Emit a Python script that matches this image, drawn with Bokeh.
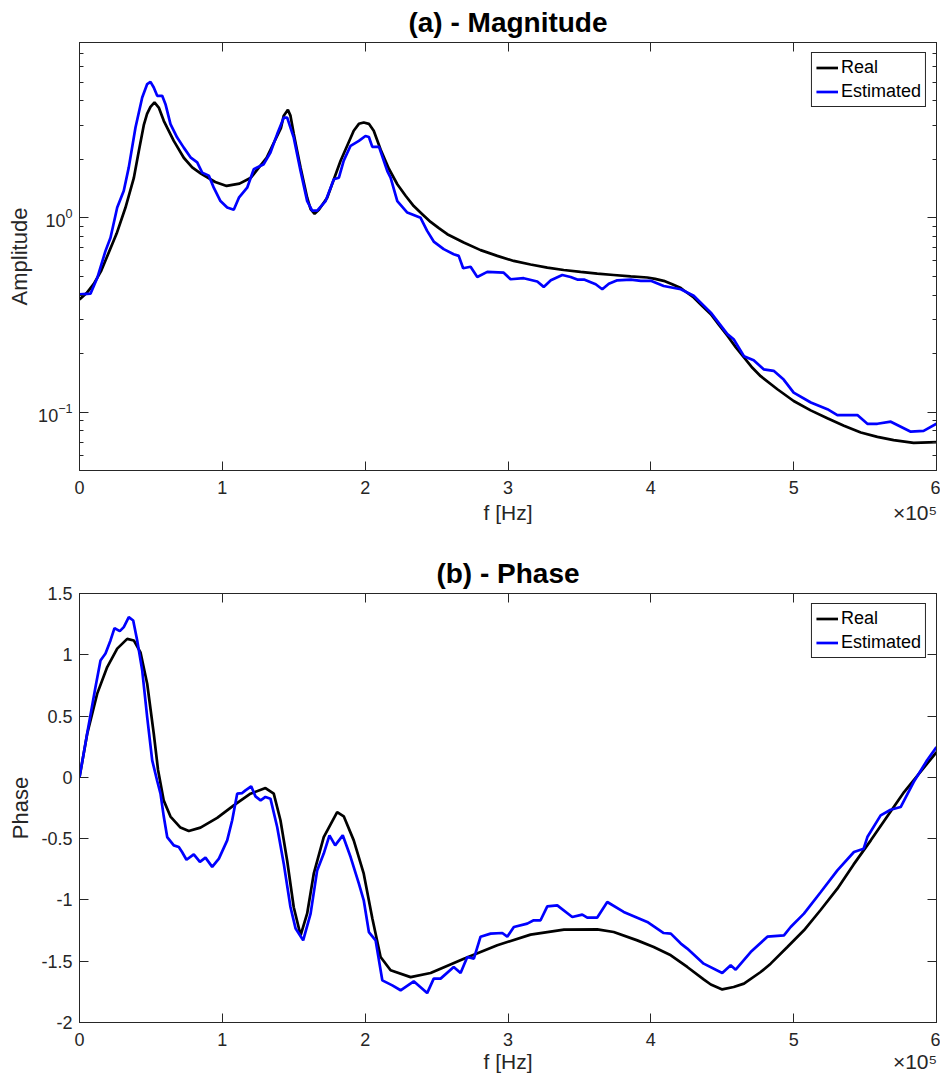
from bokeh.plotting import figure
from bokeh.layouts import column
from bokeh.models import Range1d, FixedTicker, LinearAxis, LogAxis
from bokeh.embed import file_html
from bokeh.resources import INLINE

# ---------------- data (frequency in units of 1e5 Hz) ----------------
f_mag_real = [0, 0.05, 0.1, 0.15, 0.26, 0.322, 0.38, 0.415, 0.45, 0.473, 0.497, 0.525,
              0.555, 0.59, 0.66, 0.73, 0.789, 0.85, 0.95, 1.03, 1.12, 1.2, 1.31, 1.41, 1.43,
              1.459, 1.477, 1.5, 1.524, 1.548, 1.594, 1.618, 1.646, 1.676, 1.734, 1.828,
              1.92, 1.956, 1.99, 2.026, 2.06, 2.108, 2.166, 2.225, 2.283, 2.34, 2.40, 2.458,
              2.516, 2.575, 2.69, 2.808, 2.925, 3.04, 3.158, 3.275, 3.39, 3.508, 3.625,
              3.74, 3.859, 3.975, 4.03, 4.09, 4.15, 4.21, 4.23, 4.30, 4.36, 4.42, 4.477,
              4.536, 4.594, 4.652, 4.711, 4.769, 4.886, 5.0, 5.119, 5.236, 5.352, 5.47,
              5.586, 5.70, 5.84, 6.0]
mag_real = [0.38, 0.41, 0.457, 0.53, 0.83, 1.13, 1.6, 2.2, 3.0, 3.43, 3.73, 3.93,
            3.7, 3.16, 2.49, 2.04, 1.82, 1.69, 1.53, 1.46, 1.50, 1.61, 2.04, 2.9, 3.36,
            3.6, 3.36, 2.71, 2.21, 1.81, 1.27, 1.11, 1.05, 1.10, 1.27, 1.97,
            2.81, 3.05, 3.10, 3.05, 2.81, 2.25, 1.79, 1.49, 1.30, 1.15, 1.045, 0.953,
            0.885, 0.824, 0.746, 0.682, 0.637, 0.600, 0.575, 0.554, 0.539, 0.527, 0.516,
            0.508, 0.50, 0.493, 0.485, 0.474, 0.455, 0.435, 0.424, 0.389, 0.352, 0.319, 0.281,
            0.247, 0.216, 0.191, 0.169, 0.153, 0.131, 0.114, 0.102, 0.093, 0.085, 0.0784,
            0.0745, 0.0717, 0.0694, 0.070]

f_mag_est = [0, 0.077, 0.124, 0.182, 0.217, 0.264, 0.31, 0.345, 0.392, 0.439, 0.474,
             0.497, 0.52, 0.544, 0.579, 0.602, 0.637, 0.684, 0.73, 0.777, 0.824, 0.859,
             0.906, 0.94, 0.987, 1.034, 1.08, 1.116, 1.174, 1.22, 1.29, 1.337, 1.384,
             1.43, 1.454, 1.50, 1.548, 1.594, 1.629, 1.664, 1.723, 1.781, 1.816, 1.85,
             1.898, 1.956, 2.002, 2.026, 2.05, 2.097, 2.155, 2.178, 2.225, 2.295, 2.388,
             2.434, 2.48, 2.55, 2.62, 2.655, 2.686, 2.738, 2.785, 2.855, 2.97, 3.018,
             3.11, 3.205, 3.25, 3.30, 3.38, 3.438, 3.485, 3.532, 3.614, 3.66, 3.706,
             3.765, 3.86, 3.93, 4.0, 4.09, 4.21, 4.30, 4.42, 4.536, 4.58, 4.652, 4.72,
             4.79, 4.86, 4.93, 5.0, 5.12, 5.236, 5.306, 5.446, 5.516, 5.586, 5.68,
             5.82, 5.91, 6.0]
mag_est = [0.404, 0.407, 0.49, 0.676, 0.79, 1.13, 1.38, 1.82, 2.92, 4.17, 4.89,
           5.02, 4.69, 4.25, 4.25, 3.85, 3.04, 2.59, 2.30, 2.05, 1.93, 1.71,
           1.65, 1.43, 1.22, 1.13, 1.10, 1.27, 1.43, 1.78, 1.89, 2.17, 2.70,
           3.28, 3.28, 2.59, 1.74, 1.22, 1.09, 1.09, 1.22, 1.58, 1.61, 1.97,
           2.35, 2.49, 2.64, 2.61, 2.32, 2.32, 1.74, 1.61, 1.22, 1.065, 1.00,
           0.857, 0.755, 0.69, 0.65, 0.637, 0.55, 0.56, 0.496, 0.527, 0.522, 0.483,
           0.489, 0.47, 0.441, 0.477, 0.508, 0.496, 0.481, 0.481, 0.455, 0.429, 0.458,
           0.477, 0.481, 0.474, 0.474, 0.446, 0.429, 0.397, 0.325, 0.252, 0.237, 0.194, 0.185,
           0.166, 0.163, 0.147, 0.126, 0.112, 0.1035, 0.0965, 0.0965, 0.087, 0.087, 0.0892,
           0.0792, 0.080, 0.087]

f_ph_real = [0, 0.054, 0.124, 0.194, 0.264, 0.334, 0.38, 0.427, 0.474, 0.52, 0.55,
             0.59, 0.637, 0.707, 0.765, 0.847, 0.964, 1.08, 1.197, 1.302, 1.36, 1.407,
             1.454, 1.50, 1.548, 1.594, 1.64, 1.71, 1.804, 1.85, 1.92, 1.99, 2.05,
             2.108, 2.178, 2.318, 2.458, 2.691, 2.925, 3.158, 3.392, 3.625, 3.74, 3.905,
             4.02, 4.14, 4.255, 4.372, 4.42, 4.50, 4.58, 4.652, 4.769, 4.839, 4.956,
             5.072, 5.19, 5.306, 5.42, 5.54, 5.773, 6.0]
ph_real = [0, 0.356, 0.683, 0.90, 1.05, 1.13, 1.117, 1.02, 0.764, 0.356, 0.06,
           -0.19, -0.32, -0.41, -0.438, -0.41, -0.33, -0.228, -0.133, -0.087, -0.133, -0.35,
           -0.68, -1.06, -1.289, -1.11, -0.786, -0.487, -0.283, -0.318, -0.514, -0.786, -1.15,
           -1.466, -1.574, -1.63, -1.596, -1.479, -1.37, -1.283, -1.242, -1.24, -1.262, -1.33,
           -1.384, -1.452, -1.547, -1.65, -1.69, -1.73, -1.71, -1.683, -1.588, -1.52, -1.384,
           -1.248, -1.08, -0.908, -0.71, -0.514, -0.12, 0.206]

f_ph_est = [0, 0.054, 0.112, 0.147, 0.182, 0.217, 0.245, 0.282, 0.31, 0.345, 0.376,
            0.404, 0.439, 0.474, 0.509, 0.544, 0.567, 0.59, 0.614, 0.66, 0.695, 0.718,
            0.749, 0.80, 0.843, 0.882, 0.929, 0.976, 1.034, 1.069, 1.104, 1.139, 1.162,
            1.202, 1.232, 1.268, 1.302, 1.337, 1.384, 1.43, 1.477, 1.513, 1.559, 1.566,
            1.618, 1.664, 1.71, 1.75, 1.79, 1.843, 1.898, 1.956, 1.99, 2.026, 2.073,
            2.12, 2.19, 2.248, 2.34, 2.434, 2.48, 2.528, 2.62, 2.668, 2.715, 2.761,
            2.808, 2.878, 2.96, 2.995, 3.041, 3.135, 3.18, 3.228, 3.275, 3.345, 3.45,
            3.52, 3.555, 3.625, 3.695, 3.81, 3.975, 4.09, 4.14, 4.21, 4.255, 4.37,
            4.50, 4.559, 4.594, 4.699, 4.816, 4.932, 4.979, 5.072, 5.19, 5.306, 5.422,
            5.49, 5.516, 5.609, 5.679, 5.749, 5.84, 5.934, 6.0]
ph_est = [0, 0.36, 0.737, 0.954, 1.01, 1.117, 1.218, 1.193, 1.226, 1.307, 1.28,
          1.117, 0.873, 0.49, 0.139, -0.03, -0.133, -0.32, -0.487, -0.555, -0.568, -0.609,
          -0.672, -0.628, -0.69, -0.655, -0.73, -0.663, -0.514, -0.35, -0.133, -0.128, -0.106,
          -0.073, -0.155, -0.188, -0.16, -0.174, -0.405, -0.704, -1.058, -1.234, -1.316, -1.33,
          -1.112, -0.759, -0.622, -0.473, -0.555, -0.473, -0.65, -0.867, -1.003, -1.262, -1.33,
          -1.656, -1.697, -1.737, -1.664, -1.76, -1.642, -1.642, -1.547, -1.596, -1.466, -1.479,
          -1.30, -1.275, -1.27, -1.30, -1.221, -1.193, -1.166, -1.166, -1.052, -1.044, -1.139,
          -1.12, -1.144, -1.144, -1.017, -1.098, -1.18, -1.27, -1.275, -1.356, -1.397, -1.52,
          -1.596, -1.533, -1.569, -1.425, -1.30, -1.289, -1.221, -1.112, -0.935, -0.759, -0.609,
          -0.582, -0.487, -0.31, -0.264, -0.242, -0.038, 0.139, 0.247]

x_ticks = [0, 1, 2, 3, 4, 5, 6]
mag_major_ticks = [0.1, 1]
mag_minor_ticks = [0.06, 0.07, 0.08, 0.09, 0.2, 0.3, 0.4, 0.5, 0.6, 0.7, 0.8, 0.9,
                   2, 3, 4, 5, 6, 7, 8]
ph_ticks = [-2, -1.5, -1, -0.5, 0, 0.5, 1, 1.5]
ph_tick_labels = ["-2", "-1.5", "-1", "-0.5", "0", "0.5", "1", "1.5"]
x_label_text = "f [Hz]"
x_exponent_text = "\u00d710\u2075"

FONT = "Liberation Sans"
AX = "#262626"
W = 940


def style_axis(ax, show_labels=True, minor=False):
    ax.axis_line_color = AX
    ax.major_tick_line_color = AX
    ax.major_tick_in = 9
    ax.major_tick_out = 0
    ax.minor_tick_line_color = AX if minor else None
    ax.minor_tick_in = 4
    ax.minor_tick_out = 0
    ax.major_label_text_color = AX
    ax.major_label_text_font = FONT
    ax.axis_label_text_font = FONT
    ax.axis_label_text_color = AX
    ax.axis_label_text_font_style = "normal"
    ax.axis_label_text_font_size = "22px"
    if show_labels:
        ax.major_label_text_font_size = "18px"
    else:
        ax.major_label_text_font_size = "1px"
        ax.major_label_text_alpha = 0
        ax.major_label_standoff = 0


def make_fig(height, top, bottom, title, yrange, log):
    kw = dict(width=W, height=height, x_range=Range1d(0, 6), y_range=yrange,
              output_backend="svg", toolbar_location=None,
              min_border_left=79, min_border_right=4,
              min_border_top=top, min_border_bottom=bottom,
              background_fill_color="white", border_fill_color="white")
    if log:
        kw["y_axis_type"] = "log"
    p = figure(**kw)
    p.title.text = title
    p.title.align = "center"
    p.title.text_font = FONT
    p.title.text_font_size = "28px"
    p.title.text_font_style = "bold"
    p.title.text_color = "black"
    p.title.standoff = 9
    p.xgrid.visible = False
    p.ygrid.visible = False
    p.outline_line_color = AX
    p.outline_line_width = 1
    p.outline_line_alpha = 1
    return p


def add_x_label_axis(p, standoff):
    # second axis under the numbers: carries "f [Hz]" and the x10^5 multiplier on one row
    lab_ticker = FixedTicker(ticks=[3.0, 5.85], minor_ticks=[])
    ax = LinearAxis(ticker=lab_ticker)
    ax.axis_line_color = None
    ax.major_tick_line_color = None
    ax.minor_tick_line_color = None
    ax.major_tick_in = 0
    ax.major_tick_out = 0
    ax.major_label_standoff = standoff
    ax.major_label_text_font = FONT
    ax.major_label_text_font_size = "21px"
    ax.major_label_text_color = AX
    ax.major_label_overrides = {3.0: x_label_text, 5.85: x_exponent_text}
    p.add_layout(ax, "below")


xt = FixedTicker(ticks=x_ticks, minor_ticks=[])

# ---------------- (a) magnitude ----------------
p1 = make_fig(545, 41, 75, "(a) - Magnitude", Range1d(0.05, 8), True)
mt = FixedTicker(ticks=mag_major_ticks, minor_ticks=mag_minor_ticks)
p1.xaxis.ticker = xt
p1.yaxis.ticker = mt
p1.yaxis.axis_label = "Amplitude"
style_axis(p1.xaxis[0])
style_axis(p1.yaxis[0], minor=True)
p1.xaxis.major_label_standoff = 10
p1.yaxis.major_label_standoff = 7
p1.yaxis.axis_label_standoff = 3
add_x_label_axis(p1, 4)
top1 = LinearAxis(ticker=xt)
style_axis(top1, show_labels=False)
p1.add_layout(top1, "above")
right1 = LogAxis(ticker=mt)
style_axis(right1, show_labels=False, minor=True)
p1.add_layout(right1, "right")

p1.line(f_mag_real, mag_real, line_color="black", line_width=2.7, legend_label="Real")
p1.line(f_mag_est, mag_est, line_color="#0000FF", line_width=2.7, legend_label="Estimated")

# ---------------- (b) phase ----------------
p2 = make_fig(535, 48, 58, "(b) - Phase", Range1d(-2, 1.5), False)
pt = FixedTicker(ticks=ph_ticks, minor_ticks=[])
p2.xaxis.ticker = xt
p2.yaxis.ticker = pt
p2.yaxis.major_label_overrides = {float(v): s for v, s in zip(ph_ticks, ph_tick_labels)}
p2.yaxis.axis_label = "Phase"
style_axis(p2.xaxis[0])
style_axis(p2.yaxis[0])
p2.xaxis.major_label_standoff = 10
p2.yaxis.major_label_standoff = 7
p2.yaxis.axis_label_standoff = 5
add_x_label_axis(p2, 1)
top2 = LinearAxis(ticker=xt)
style_axis(top2, show_labels=False)
p2.add_layout(top2, "above")
right2 = LinearAxis(ticker=pt)
style_axis(right2, show_labels=False)
p2.add_layout(right2, "right")

p2.line(f_ph_real, ph_real, line_color="black", line_width=2.7, legend_label="Real")
p2.line(f_ph_est, ph_est, line_color="#0000FF", line_width=2.7, legend_label="Estimated")

for p in (p1, p2):
    lg = p.legend[0]
    lg.location = "top_right"
    lg.margin = 10
    lg.padding = 4
    lg.spacing = 3
    lg.label_height = 21
    lg.glyph_height = 21
    lg.glyph_width = 22
    lg.label_standoff = 3
    lg.label_text_font = FONT
    lg.label_text_font_size = "18px"
    lg.label_text_color = "black"
    lg.border_line_color = AX
    lg.border_line_width = 1
    lg.border_line_alpha = 1
    lg.background_fill_color = "white"
    lg.background_fill_alpha = 1

layout = column(p1, p2, spacing=0)
open("out.html", "w").write(file_html(layout, INLINE))
